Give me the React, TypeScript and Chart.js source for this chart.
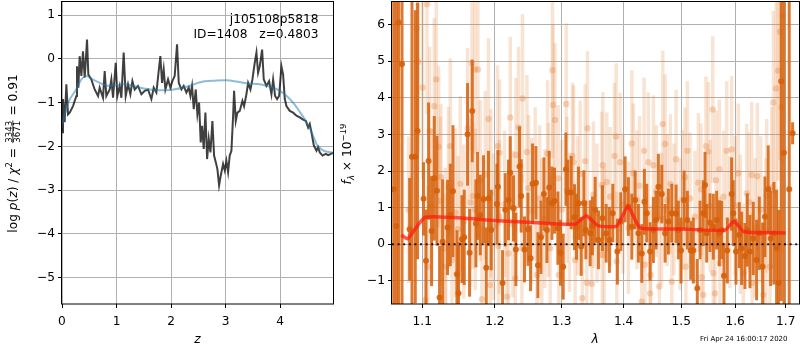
import React, { useEffect, useRef } from 'react';
import { Chart, registerables } from 'chart.js';
Chart.register(...registerables);

const FONT = '"DejaVu Sans", sans-serif';
const FS = 12.2;

// ---------- left panel: log p(z) ----------
const zTicks = [0, 1, 2, 3, 4];
const pzTicks = [-5, -4, -3, -2, -1, 0, 1];
// [z, log p(z)] dark curve
const pzCurve: [number, number][] = [
  [0, -1.68], [0.018, -0.92], [0.049, -1.45], [0.08, -0.58], [0.11, -1.27], [0.141, -1.23], [0.202, -1.08],
  [0.263, -0.85], [0.275, -0.17], [0.3, -0.66], [0.324, 0.06], [0.355, -0.39], [0.385, 0.17], [0.416, -0.43],
  [0.434, -0.09], [0.459, 0.44], [0.483, -0.36], [0.538, -0.47], [0.599, -0.7], [0.661, -0.85], [0.691, -0.66],
  [0.752, -0.89], [0.783, -0.28], [0.813, -0.85], [0.875, -0.7], [0.905, -0.47], [0.936, -0.89], [0.985, -0.09],
  [1.015, -0.85], [1.058, -0.62], [1.089, -0.89], [1.131, 0.14], [1.168, -0.85], [1.211, -0.58], [1.254, -0.81],
  [1.291, -0.51], [1.333, -0.7], [1.394, -0.62], [1.456, -0.81], [1.517, -0.73], [1.578, -0.7], [1.639, -0.92],
  [1.682, -0.66], [1.731, -0.77], [1.78, -0.2], [1.804, 0.06], [1.835, -0.55], [1.865, -0.24], [1.896, -0.7],
  [1.945, -0.47], [1.988, -0.66], [2.024, -0.51], [2.067, -0.39], [2.11, 0.33], [2.141, -0.55], [2.19, -0.7],
  [2.232, -0.62], [2.281, -0.77], [2.324, -0.66], [2.355, -0.85], [2.385, -0.62], [2.416, -1.15], [2.453, -0.7],
  [2.483, -1.27], [2.514, -1.0], [2.544, -1.91], [2.569, -1.53], [2.599, -2.06], [2.63, -1.23], [2.661, -2.29],
  [2.691, -1.83], [2.722, -2.14], [2.758, -1.42], [2.789, -2.21], [2.82, -2.36], [2.85, -2.52], [2.881, -2.89],
  [2.911, -2.67], [2.954, -2.4], [2.985, -2.55], [3.015, -2.33], [3.046, -2.59], [3.076, -2.21], [3.107, -2.1],
  [3.138, -1.3], [3.156, -0.73], [3.187, -1.42], [3.217, -1.23], [3.26, -1.19], [3.309, -0.96], [3.339, -1.08],
  [3.382, -0.81], [3.413, -0.55], [3.456, -0.7], [3.492, -0.47], [3.535, -0.09], [3.566, 0.14], [3.596, -0.32],
  [3.627, -0.17], [3.67, 0.21], [3.7, -0.47], [3.749, -0.62], [3.798, -0.51], [3.841, -0.81], [3.872, -0.47],
  [3.908, -0.85], [3.945, -0.92], [3.982, -0.85], [4.024, -0.17], [4.055, -0.36], [4.086, -0.92], [4.116, -1.08],
  [4.177, -1.19], [4.239, -1.23], [4.3, -1.3], [4.361, -1.34], [4.422, -1.39], [4.471, -1.42], [4.514, -1.57],
  [4.544, -1.49], [4.575, -1.68], [4.618, -1.98], [4.667, -2.1], [4.697, -2.02], [4.728, -2.14], [4.777, -2.21],
  [4.838, -2.17], [4.881, -2.2], [4.972, -2.15],
];
// [z, log p(z)] smooth (blue) curve
const pzSmooth: [number, number][] = [
  [0, -1.5], [0.13, -0.96], [0.26, -0.7], [0.35, -0.48], [0.44, -0.39], [0.56, -0.47], [0.75, -0.58],
  [0.87, -0.62], [1.0, -0.6], [1.18, -0.58], [1.5, -0.68], [1.79, -0.72], [2.05, -0.7], [2.28, -0.64],
  [2.59, -0.52], [2.8, -0.5], [3.02, -0.49], [3.2, -0.52], [3.39, -0.56], [3.63, -0.58], [3.82, -0.64],
  [3.98, -0.72], [4.12, -0.85], [4.25, -1.02], [4.37, -1.23], [4.47, -1.42], [4.55, -1.6], [4.62, -1.8],
  [4.67, -1.95], [4.74, -2.05], [4.8, -2.1], [4.97, -2.15],
];

// ---------- right panel: spectrum ----------
const lamTicks = [1.1, 1.2, 1.3, 1.4, 1.5, 1.6, 1.7];
const fluxTicks = [-1, 0, 1, 2, 3, 4, 5, 6];
// [lambda, flux, err] dark (binned) spectrum
const darkSpec: [number, number, number][] = [
  [1.063, 1.5, 8], [1.0663, 0.5, 8], [1.0692, 6.05, 8], [1.0736, 4.92, 7], [1.0834, 0.41, 1.4], [1.0865, 2.39, 5],
  [1.0908, 2.39, 4], [1.0938, 3.09, 3.5], [1.1017, 1.24, 1.0], [1.1049, -0.45, 1.4], [1.1083, 2.27, 1.6],
  [1.1123, 0.36, 1.5], [1.1159, 1.8, 1.7], [1.1195, 1.46, 1.5], [1.123, -1.45, 1.4], [1.1271, 0.07, 1.7],
  [1.1338, 0.46, 1.3], [1.1375, 0.8, 1.4], [1.1412, 1.45, 1.8], [1.1466, -0.82, 1.2], [1.1488, -1.34, 1.4],
  [1.1535, 0.14, 1.2], [1.1567, 0.19, 1.3], [1.1613, 3.0, 1.4], [1.1641, -0.23, 1.2], [1.1678, 3.64, 1.4],
  [1.173, 0.57, 1.2], [1.1753, 1.32, 1.2], [1.1791, 0.8, 1.1], [1.1837, 1.23, 1.2], [1.1876, -0.64, 1.1],
  [1.1908, 1.25, 1.3], [1.1947, 0.39, 1.1], [1.2029, 1.1, 1.1], [1.2043, 1.57, 1.0], [1.211, -1.06, 0.9],
  [1.2149, 0.94, 1.0], [1.2197, 1.21, 1.1], [1.2222, 1.95, 1.0], [1.227, 0.98, 0.9], [1.2305, -0.14, 1.0],
  [1.2359, 2.12, 1.1], [1.2384, 1.32, 1.0], [1.2433, -0.14, 0.9], [1.2484, 0.41, 1.0], [1.2523, -0.38, 0.9],
  [1.2553, 1.65, 1.1], [1.2604, 1.68, 1.0], [1.2634, -0.57, 0.9], [1.268, 0.19, 1.0], [1.2725, 1.37, 1.0],
  [1.2771, 0.39, 0.9], [1.2806, 1.55, 1.0], [1.2848, 1.12, 1.0], [1.2888, 1.19, 0.9], [1.294, 0.44, 1.0],
  [1.2981, -0.23, 0.9], [1.3023, -0.61, 0.9], [1.3065, 2.05, 1.0], [1.3096, 1.41, 0.9], [1.3148, 1.41, 1.0],
  [1.32, 0.74, 0.9], [1.3232, 0.48, 0.9], [1.3263, 1.12, 1.0], [1.3306, -0.06, 0.8], [1.3349, 1.12, 0.9],
  [1.3381, 0.39, 0.8], [1.345, 0.3, 0.9], [1.3487, 0.5, 0.8], [1.3531, 0.94, 0.9], [1.3584, 0.12, 0.8],
  [1.3649, 0.71, 0.9], [1.371, 0.3, 0.8], [1.3764, 0.12, 0.9], [1.382, 0.85, 0.8], [1.3896, -0.2, 0.9],
  [1.3953, 0.62, 0.8], [1.4025, 1.5, 0.9], [1.408, 1.03, 0.8], [1.4138, 0.48, 0.9], [1.4194, 1.21, 0.8],
  [1.425, 0.3, 0.8], [1.4308, -0.25, 0.8], [1.4353, 1.16, 0.9], [1.4394, 0.85, 0.8], [1.4451, -0.2, 0.8],
  [1.4508, 0.39, 0.9], [1.4555, 0.66, 0.8], [1.4595, 1.57, 0.9], [1.4655, 1.37, 0.8], [1.4713, 0.3, 0.8],
  [1.4771, 0.62, 0.9], [1.4831, 0.85, 0.8], [1.4908, 0.83, 0.8], [1.4949, 0.39, 0.8], [1.4997, -0.17, 0.9],
  [1.5051, 1.21, 0.8], [1.5111, 0.66, 0.8], [1.5172, -0.17, 0.8], [1.5219, -0.17, 0.9], [1.5292, -1.2, 0.8],
  [1.5342, 0.39, 0.8], [1.5402, 0.85, 0.9], [1.5434, 1.62, 0.9], [1.5465, 0.3, 0.8], [1.5526, 0.59, 0.8],
  [1.5588, 0.48, 0.9], [1.5651, 0.66, 0.8], [1.57, 0.3, 0.9], [1.5745, 0.39, 0.8], [1.5788, -0.86, 0.9],
  [1.5851, -0.17, 0.9], [1.5934, 1.37, 1.0], [1.5965, 0.85, 0.9], [1.6017, -0.2, 0.9], [1.608, 0.25, 0.9],
  [1.6126, -0.11, 1.0], [1.619, -0.32, 0.9], [1.6235, 0.39, 1.0], [1.6287, -0.2, 1.0], [1.6352, 0.16, 1.0],
  [1.6418, -0.43, 1.1], [1.647, 0.3, 1.0], [1.6537, -0.61, 1.2], [1.6582, 0.75, 1.1], [1.6648, 1.5, 1.2],
  [1.6696, 0.16, 1.3], [1.6762, 0.3, 1.4], [1.6816, -0.11, 1.6], [1.6856, -1.06, 2.0], [1.6909, 4.45, 6],
  [1.6964, 2.5, 8], [1.7072, 1.5, 9], [1.7141, 3.03, 0.3],
];
// [lambda, flux, err] light (unbinned) spectrum
const lightSpec: [number, number, number][] = [
  [1.0821, 0.94, 2.0], [1.093, 5.89, 3], [1.0947, 4.98, 2.5], [1.1004, 4.28, 2.5], [1.104, -1.52, 2.0],
  [1.1062, 6.55, 3], [1.1073, -0.61, 2.2], [1.1097, 3.09, 2.3], [1.112, 1.05, 2.1], [1.1159, 3.77, 2.4],
  [1.1186, 4.5, 2.5], [1.1217, 2.66, 2.2], [1.124, 1.18, 2.3], [1.1249, 1.83, 2.0], [1.1307, -0.11, 2.2],
  [1.1314, -0.61, 2.0], [1.135, 1.55, 2.2], [1.1375, 2.68, 2.4], [1.1398, -0.43, 2.2], [1.1447, 0.86, 2.3],
  [1.148, 0.41, 2.0], [1.1512, 1.65, 2.4], [1.156, 0.62, 2.1], [1.1613, 3.16, 2.2], [1.1655, 1.14, 2.3],
  [1.1674, 4.94, 2.4], [1.1686, 1.32, 2.0], [1.1713, 4.77, 2.3], [1.172, 0.95, 2.2], [1.1758, 4.77, 2.3],
  [1.1791, 1.74, 2.2], [1.1815, -1.5, 2.0], [1.1861, 1.89, 2.3], [1.1908, 3.42, 2.2], [1.1932, -1.11, 2.0],
  [1.1942, 1.39, 2.3], [1.198, 0.48, 2.0], [1.2037, 2.68, 2.2], [1.205, -0.05, 2.0], [1.2061, 0.75, 2.1],
  [1.2067, 2.5, 2.0], [1.214, 1.1, 2.0], [1.2173, -1.43, 2.0], [1.2197, -0.25, 2.1], [1.2222, 3.46, 2.2],
  [1.226, 0.55, 2.0], [1.2295, -0.93, 2.0], [1.2305, 2.44, 2.1], [1.2344, 3.19, 2.2], [1.2394, -0.11, 2.0],
  [1.2403, 3.98, 2.3], [1.2469, 2.52, 2.1], [1.2493, 1.53, 2.0], [1.254, 0.9, 2.0], [1.2593, 1.64, 2.1],
  [1.2619, -0.84, 2.0], [1.266, 1.25, 2.0], [1.2693, 0.25, 2.1], [1.274, 0.7, 1.9], [1.278, 2.48, 2.0],
  [1.2795, 1.21, 2.1], [1.2821, -0.11, 2.0], [1.2856, 4.75, 2.4], [1.2865, 3.8, 2.2], [1.2895, 3.39, 2.1],
  [1.2945, 1.8, 2.0], [1.2955, -0.84, 2.0], [1.3, 0.95, 1.9], [1.3069, 3.83, 2.2], [1.308, 1.48, 2.0],
  [1.312, 0.6, 1.9], [1.3168, 2.41, 2.0], [1.3185, 2.24, 2.1], [1.321, -0.43, 2.0], [1.325, 1.05, 1.9],
  [1.329, 1.92, 2.0], [1.3326, -1.47, 2.0], [1.337, 2.27, 2.1], [1.3397, -1.05, 2.0], [1.3407, 3.17, 2.1],
  [1.3477, -1.08, 1.9], [1.3503, 1.35, 2.0], [1.356, 0.85, 1.9], [1.364, 1.62, 2.0], [1.3648, -0.29, 1.9],
  [1.3655, 2.16, 2.0], [1.3677, 0.2, 1.9], [1.372, 1.7, 1.9], [1.3775, 1.3, 1.9], [1.3848, 2.41, 2.0],
  [1.3876, 2.94, 2.0], [1.3886, -0.47, 1.9], [1.3941, 2.24, 1.9], [1.399, 1.1, 1.9], [1.408, 0.45, 1.8],
  [1.4138, 2.75, 2.0], [1.4165, 1.94, 1.9], [1.4224, 1.21, 1.9], [1.427, 1.6, 1.9], [1.4308, -1.56, 1.8],
  [1.4348, 2.55, 2.0], [1.4363, -0.56, 1.9], [1.4421, 2.24, 1.9], [1.4451, -1.34, 1.8], [1.4462, -0.84, 1.9],
  [1.4508, 2.16, 1.9], [1.456, 1.45, 1.8], [1.4612, -1.15, 1.8], [1.465, 0.7, 1.8], [1.4673, 3.28, 2.0],
  [1.4713, 2.74, 1.9], [1.475, 1.2, 1.8], [1.4806, 1.65, 1.9], [1.4831, -1.02, 1.8], [1.487, 0.95, 1.8],
  [1.4908, 2.32, 1.9], [1.498, 0.55, 1.8], [1.5025, 1.21, 1.9], [1.5069, 1.83, 1.9], [1.5084, -0.61, 1.8],
  [1.5111, 2.55, 1.9], [1.516, 1.25, 1.8], [1.525, 0.75, 1.8], [1.5311, 1.68, 1.9], [1.536, 1.5, 1.8],
  [1.5374, -0.9, 1.8], [1.5402, -1.38, 1.8], [1.5452, 2.68, 1.9], [1.5495, 2.53, 1.9], [1.553, 1.05, 1.8],
  [1.5577, 3.68, 2.0], [1.5588, -0.79, 1.8], [1.562, -1.34, 1.8], [1.5639, 1.75, 1.9], [1.57, 2.05, 1.9],
  [1.5714, -0.52, 1.8], [1.578, 1.3, 1.8], [1.584, 2.55, 1.9], [1.59, 0.6, 1.8], [1.5934, 2.59, 2.0],
  [1.6, 1.05, 1.9], [1.6061, 1.94, 1.9], [1.61, 0.55, 1.9], [1.6158, -0.79, 1.9], [1.6224, 1.39, 1.9],
  [1.627, 1.15, 1.9], [1.6322, 1.89, 2.0], [1.633, -1.06, 1.9], [1.639, 0.45, 1.9], [1.6432, 1.86, 2.0],
  [1.65, 0.95, 2.0], [1.655, -1.38, 2.0], [1.66, 0.35, 2.0], [1.6617, 1.32, 2.1], [1.6683, -0.61, 2.2],
  [1.672, 1.55, 2.2], [1.675, 3.87, 2.5], [1.6804, 4.25, 3], [1.6844, 4.74, 3], [1.6884, 5.8, 3.5],
  [1.692, 3.74, 4], [1.6938, 6.23, 4],
];
// model (red) line
const modelLam = [1.0727, 1.0809, 1.104, 1.2, 1.25, 1.321, 1.3388, 1.3584, 1.3888, 1.4073, 1.4278, 1.5, 1.5805, 1.5982, 1.617, 1.7];
const modelFlux = [0.25, 0.15, 0.74, 0.65, 0.6, 0.55, 0.78, 0.5, 0.5, 1.04, 0.45, 0.42, 0.38, 0.63, 0.34, 0.31];

const fmt = (v: number) => (v < 0 ? '\u2212' : '') + String(Math.abs(v));

type Part = { t?: string; it?: boolean; sc?: number; dy?: number; frac?: [string, string] };

function drawRich(ctx: CanvasRenderingContext2D, parts: Part[], cx: number, cy: number, size: number, rotate: boolean) {
  ctx.save();
  ctx.translate(cx, cy);
  if (rotate) ctx.rotate(-Math.PI / 2);
  const fontOf = (p: Part) => `${p.it ? 'italic ' : ''}${(size * (p.sc || 1)).toFixed(2)}px ${FONT}`;
  const widths = parts.map((p) => {
    if (p.frac) {
      ctx.font = `${(size * 0.7).toFixed(2)}px ${FONT}`;
      return Math.max(ctx.measureText(p.frac[0]).width, ctx.measureText(p.frac[1]).width) + 3;
    }
    ctx.font = fontOf(p);
    return ctx.measureText(p.t || '').width;
  });
  const total = widths.reduce((a, b) => a + b, 0);
  let x = -total / 2;
  const base = size * 0.36;
  ctx.fillStyle = '#000';
  ctx.textBaseline = 'alphabetic';
  parts.forEach((p, i) => {
    const w = widths[i];
    if (p.frac) {
      ctx.font = `${(size * 0.7).toFixed(2)}px ${FONT}`;
      const barY = base - size * 0.33;
      ctx.fillRect(x + 1, barY - 0.4, w - 2, 0.8);
      ctx.textAlign = 'center';
      ctx.fillText(p.frac[0], x + w / 2, barY - size * 0.1);
      ctx.fillText(p.frac[1], x + w / 2, barY + size * 0.1 + size * 0.7 * 0.73);
    } else {
      ctx.textAlign = 'left';
      ctx.font = fontOf(p);
      ctx.fillText(p.t || '', x, base + (p.dy || 0) * size);
    }
    x += w;
  });
  ctx.restore();
}

const framePlugin = {
  id: 'frame',
  afterDatasetsDraw(chart: any) {
    const { ctx, chartArea: a } = chart;
    ctx.save();
    ctx.strokeStyle = '#000';
    ctx.lineWidth = 1;
    ctx.strokeRect(Math.round(a.left) - 0.5, Math.round(a.top) + 0.5, Math.round(a.right - a.left) + 1, Math.round(a.bottom - a.top) - 0.5);
    ctx.restore();
  },
};

const errorBarPlugin = {
  id: 'errbars',
  beforeDatasetDraw(chart: any, args: any) {
    const ds = chart.data.datasets[args.index];
    if (!ds.errSpec) return;
    const { ctx, chartArea: a } = chart;
    const xs = chart.scales.x;
    const ys = chart.scales.y;
    ctx.save();
    ctx.beginPath();
    ctx.rect(a.left, a.top, a.right - a.left, a.bottom - a.top);
    ctx.clip();
    ctx.strokeStyle = ds.errColor;
    ctx.lineWidth = ds.errWidth;
    for (const [l, f, e] of ds.errSpec as [number, number, number][]) {
      const px = xs.getPixelForValue(l);
      ctx.beginPath();
      ctx.moveTo(px, ys.getPixelForValue(f - e));
      ctx.lineTo(px, ys.getPixelForValue(f + e));
      ctx.stroke();
    }
    ctx.restore();
  },
};

const tickFont = { family: FONT, size: FS };
const gridOpts = { color: '#b0b0b0', lineWidth: 1, tickColor: '#000', tickLength: 4 };
const fitX = (h: number) => (s: any) => { s.height = h; s.paddingLeft = 0; s.paddingRight = 0; };
const fitY = (w: number) => (s: any) => { s.width = w; s.paddingTop = 0; s.paddingBottom = 0; };

function leftConfig(): any {
  return {
    type: 'scatter',
    data: {
      datasets: [
        { data: pzSmooth.map(([x, y]) => ({ x, y })), showLine: true, borderColor: 'rgba(31,119,180,0.5)', borderWidth: 2, pointRadius: 0, tension: 0.3 },
        { data: pzCurve.map(([x, y]) => ({ x, y })), showLine: true, borderColor: 'rgba(0,0,0,0.75)', borderWidth: 2, pointRadius: 0 },
      ],
    },
    options: {
      animation: false, responsive: false, maintainAspectRatio: false, events: [],
      layout: { padding: { top: 1, right: 7, left: 0, bottom: 0 }, autoPadding: false },
      plugins: { legend: { display: false }, tooltip: { enabled: false } },
      scales: {
        x: {
          type: 'linear', min: 0, max: 4.97,
          afterBuildTicks: (s: any) => { s.ticks = zTicks.map((v) => ({ value: v })); },
          afterFit: fitX(46),
          ticks: { font: tickFont, color: '#000', padding: 7, maxRotation: 0, autoSkip: false, callback: (v: number) => fmt(v) },
          grid: gridOpts, border: { display: false },
        },
        y: {
          type: 'linear', min: -5.6, max: 1.32,
          afterBuildTicks: (s: any) => { s.ticks = pzTicks.map((v) => ({ value: v })); },
          afterFit: fitY(62),
          ticks: { font: tickFont, color: '#000', padding: 3, autoSkip: false, callback: (v: number) => fmt(v) },
          grid: gridOpts, border: { display: false },
        },
      },
    },
    plugins: [framePlugin, {
      id: 'leftText',
      afterDraw(chart: any) {
        const ctx = chart.ctx as CanvasRenderingContext2D;
        ctx.save();
        ctx.fillStyle = '#000';
        ctx.font = `${FS}px ${FONT}`;
        ctx.textAlign = 'right';
        ctx.textBaseline = 'middle';
        ctx.fillText('j105108p5818', 318.5, 19.5);
        ctx.fillText('ID=1408   z=0.4803', 318.5, 34.5);
        ctx.textAlign = 'center';
        ctx.font = `italic ${FS}px ${FONT}`;
        ctx.fillText('z', 197.5, 340);
        ctx.restore();
        drawRich(ctx, [
          { t: 'log ' }, { t: 'p', it: true }, { t: '(' }, { t: 'z', it: true }, { t: ') / ' },
          { t: 'χ', it: true }, { t: '2', sc: 0.7, dy: -0.38 }, { t: ' = ' }, { frac: ['3343', '3671'] }, { t: ' = 0.91' },
        ], 12.5, 153.5, FS, true);
      },
    }],
  };
}

function rightConfig(): any {
  const lamMin = 1.0608, lamMax = 1.7273;
  return {
    type: 'scatter',
    data: {
      datasets: [
        { data: [{ x: lamMin, y: 0 }, { x: lamMax, y: 0 }], showLine: true, borderColor: 'rgba(0,0,0,0.85)', borderWidth: 2, borderDash: [2, 3.6], pointRadius: 0 },
        { data: modelLam.map((x, i) => ({ x, y: modelFlux[i] })), showLine: true, borderColor: 'rgba(255,25,15,0.72)', borderWidth: 3.5, pointRadius: 0, tension: 0.15 },
        { data: darkSpec.map(([x, y]) => ({ x, y })), pointRadius: 3, pointBorderWidth: 0, pointBackgroundColor: 'rgba(214,96,10,0.9)', errSpec: darkSpec, errColor: 'rgba(214,96,10,0.85)', errWidth: 3 },
        { data: lightSpec.map(([x, y]) => ({ x, y })), pointRadius: 3.2, pointBorderWidth: 0, pointBackgroundColor: 'rgba(228,130,60,0.33)', errSpec: lightSpec, errColor: 'rgba(228,130,60,0.22)', errWidth: 3.5 },
      ],
    },
    options: {
      animation: false, responsive: false, maintainAspectRatio: false, events: [],
      layout: { padding: { top: 1, right: 1, left: 0, bottom: 0 }, autoPadding: false },
      plugins: { legend: { display: false }, tooltip: { enabled: false } },
      scales: {
        x: {
          type: 'logarithmic', min: lamMin, max: lamMax,
          afterBuildTicks: (s: any) => { s.ticks = lamTicks.map((v) => ({ value: v })); },
          afterFit: fitX(46),
          ticks: { font: tickFont, color: '#000', padding: 7, maxRotation: 0, autoSkip: false, callback: (v: number) => Number(v).toFixed(1) },
          grid: gridOpts, border: { display: false },
        },
        y: {
          type: 'linear', min: -1.63, max: 6.64,
          afterBuildTicks: (s: any) => { s.ticks = fluxTicks.map((v) => ({ value: v })); },
          afterFit: fitY(52),
          ticks: { font: tickFont, color: '#000', padding: 3, autoSkip: false, callback: (v: number) => fmt(v) },
          grid: gridOpts, border: { display: false },
        },
      },
    },
    plugins: [errorBarPlugin, framePlugin, {
      id: 'rightText',
      afterDraw(chart: any) {
        const ctx = chart.ctx as CanvasRenderingContext2D;
        ctx.save();
        ctx.fillStyle = '#000';
        ctx.textAlign = 'center';
        ctx.textBaseline = 'middle';
        ctx.font = `italic ${FS}px ${FONT}`;
        ctx.fillText('λ', 255, 340);
        ctx.textAlign = 'right';
        ctx.font = `7px ${FONT}`;
        ctx.fillText('Fri Apr 24 16:00:17 2020', 447.5, 339.5);
        ctx.restore();
        drawRich(ctx, [
          { t: 'f', it: true }, { t: 'λ', it: true, sc: 0.7, dy: 0.22 }, { t: ' × 10' }, { t: '−19', sc: 0.7, dy: -0.4 },
        ], 6.5, 154, FS, true);
      },
    }],
  };
}

export default function App() {
  const leftRef = useRef<HTMLCanvasElement>(null);
  const rightRef = useRef<HTMLCanvasElement>(null);
  useEffect(() => {
    const c1 = new Chart(leftRef.current as HTMLCanvasElement, leftConfig());
    const c2 = new Chart(rightRef.current as HTMLCanvasElement, rightConfig());
    return () => { c1.destroy(); c2.destroy(); };
  }, []);
  return (
    <div style={{ position: 'fixed', left: 0, top: 0, width: 800, height: 350, background: '#fff' }}>
      <canvas ref={leftRef} width={340} height={350} style={{ position: 'absolute', left: 0, top: 0, width: 340, height: 350 }} />
      <canvas ref={rightRef} width={460} height={350} style={{ position: 'absolute', left: 340, top: 0, width: 460, height: 350 }} />
    </div>
  );
}
